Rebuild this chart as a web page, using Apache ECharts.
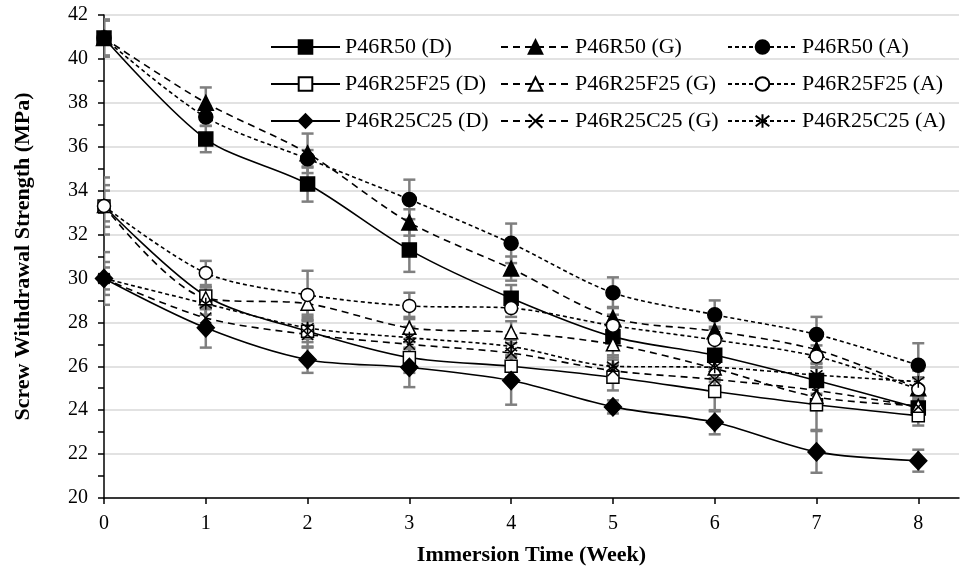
<!DOCTYPE html>
<html><head><meta charset="utf-8">
<script src="https://cdn.jsdelivr.net/npm/echarts@6/dist/echarts.min.js"></script>
<style>html,body{margin:0;padding:0;background:#fff}#c{width:971px;height:577px}</style>
</head><body><div id="c"></div>
<script>
// ---- data ----
const weeks = [0, 1, 2, 3, 4, 5, 6, 7, 8];
const xTickLabels = ['0', '1', '2', '3', '4', '5', '6', '7', '8'];
const yTickLabels = [20, 22, 24, 26, 28, 30, 32, 34, 36, 38, 40, 42];

const names = [
  'P46R50 (D)', 'P46R25F25 (D)', 'P46R25C25 (D)',
  'P46R50 (G)', 'P46R25F25 (G)', 'P46R25C25 (G)',
  'P46R50 (A)', 'P46R25F25 (A)', 'P46R25C25 (A)'
];

const R50_D  = [40.95, 36.35, 34.3, 31.3, 29.1, 27.35, 26.5, 25.35, 24.1];
const F25_D  = [33.3, 29.2, 27.6, 26.4, 26.0, 25.5, 24.85, 24.25, 23.75];
const C25_D  = [30.0, 27.75, 26.3, 25.95, 25.35, 24.15, 23.45, 22.1, 21.7];
const R50_G  = [40.95, 38.0, 35.7, 32.55, 30.45, 28.2, 27.6, 26.75, 25.0];
const F25_G  = [33.3, 29.1, 28.85, 27.75, 27.55, 27.0, 25.9, 24.6, 24.2];
const C25_G  = [30.0, 28.2, 27.45, 27.0, 26.6, 25.8, 25.4, 24.9, 24.15];
const R50_A  = [40.95, 37.35, 35.45, 33.6, 31.6, 29.35, 28.35, 27.45, 26.05];
const F25_A  = [33.3, 30.25, 29.25, 28.75, 28.65, 27.85, 27.2, 26.45, 24.95];
const C25_A  = [30.0, 28.85, 27.75, 27.3, 26.9, 26.0, 25.95, 25.6, 25.3];

// error bar half-widths (+/-)
const R50_D_err = [0.8, 0.6, 0.8, 1.0, 0.6, 0.5, 0.6, 0.6, 0.5];
const F25_D_err = [0.7, 0.4, 0.5, 0.7, 0.5, 0.6, 0.9, 1.15, 0.45];
const C25_D_err = [1.2, 0.9, 0.6, 0.9, 1.1, 0.3, 0.55, 0.95, 0.5];
const R50_G_err = [0.85, 0.7, 0.9, 0.6, 0.55, 0.5, 0.5, 0.6, 0.5];
const F25_G_err = [1.3, 0.5, 0.5, 0.5, 0.5, 0.6, 0.6, 0.6, 0.5];
const C25_G_err = [0.5, 0.5, 0.6, 0.5, 0.6, 0.5, 0.5, 0.5, 0.5];
const R50_A_err = [0.8, 0.4, 0.4, 0.9, 0.9, 0.7, 0.65, 0.8, 1.0];
const F25_A_err = [0.95, 0.55, 1.1, 0.6, 0.4, 0.5, 0.6, 0.5, 0.5];
const C25_A_err = [0.75, 0.5, 0.5, 0.5, 0.5, 0.5, 0.5, 0.5, 0.5];

// ---- styles ----
const FONT = '"Liberation Serif", "Times New Roman", serif';
const X_PATH = 'path://M0,0L10,10M10,0L0,10';
const AST_PATH = 'path://M0,0L10,10M10,0L0,10M5,-1.5L5,11.5';
const DASH_G = [7, 5];
const DASH_A = [4, 3];

const defs = [
  { vals: R50_D, err: R50_D_err, dash: 'solid', symbol: 'rect', size: 14, fill: '#000' },
  { vals: F25_D, err: F25_D_err, dash: 'solid', symbol: 'rect', size: 12, fill: '#fff' },
  { vals: C25_D, err: C25_D_err, dash: 'solid', symbol: 'diamond', size: [17, 18], fill: '#000' },
  { vals: R50_G, err: R50_G_err, dash: DASH_G, symbol: 'triangle', size: 15, fill: '#000' },
  { vals: F25_G, err: F25_G_err, dash: DASH_G, symbol: 'triangle', size: 13, fill: '#fff' },
  { vals: C25_G, err: C25_G_err, dash: DASH_G, symbol: X_PATH, size: 11, fill: '#000' },
  { vals: R50_A, err: R50_A_err, dash: DASH_A, symbol: 'circle', size: 14, fill: '#000' },
  { vals: F25_A, err: F25_A_err, dash: DASH_A, symbol: 'circle', size: 13, fill: '#fff' },
  { vals: C25_A, err: C25_A_err, dash: DASH_A, symbol: AST_PATH, size: 12, fill: '#000' }
];

function renderErr(params, api) {
  const x = api.value(0), lo = api.value(1), hi = api.value(2);
  const a = api.coord([x, lo]), b = api.coord([x, hi]);
  const hw = 6;
  const st = { stroke: '#7f7f7f', lineWidth: 2.5 };
  return {
    type: 'group',
    children: [
      { type: 'line', shape: { x1: a[0], y1: a[1], x2: b[0], y2: b[1] }, style: st },
      { type: 'line', shape: { x1: a[0] - hw, y1: a[1], x2: a[0] + hw, y2: a[1] }, style: st },
      { type: 'line', shape: { x1: b[0] - hw, y1: b[1], x2: b[0] + hw, y2: b[1] }, style: st }
    ]
  };
}

const series = [];
defs.forEach((d, k) => {
  series.push({
    type: 'custom',
    name: names[k] + ' err',
    renderItem: renderErr,
    encode: { x: 0, y: [1, 2] },
    data: weeks.map((w, i) => [w, d.vals[i] - d.err[i], d.vals[i] + d.err[i]]),
    z: 1,
    silent: true,
    clip: true
  });
});
defs.forEach((d, k) => {
  series.push({
    type: 'line',
    name: names[k],
    data: weeks.map((w, i) => [w, d.vals[i]]),
    smooth: 0.3,
    symbol: d.symbol,
    symbolSize: d.size,
    showAllSymbol: true,
    lineStyle: { color: '#000', width: 1.6, type: d.dash },
    itemStyle: { color: d.fill, borderColor: '#000', borderWidth: 1.5 },
    emphasis: { disabled: true },
    z: 3
  });
});

function legendCol(data, left) {
  return {
    data: data,
    orient: 'vertical',
    left: left,
    top: 36,
    padding: 0,
    itemWidth: 69,
    itemHeight: 17,
    itemGap: 15,
    selectedMode: false,
    textStyle: { fontFamily: FONT, fontSize: 22, lineHeight: 22, color: '#000' }
  };
}

const chart = echarts.init(document.getElementById('c'), null, { renderer: 'canvas' });
chart.setOption({
  animation: false,
  backgroundColor: '#fff',
  grid: { left: 104, right: 12, top: 15, bottom: 79, containLabel: false },
  legend: [
    legendCol(names.slice(0, 3), 270),
    legendCol(names.slice(3, 6), 500),
    legendCol(names.slice(6, 9), 727)
  ],
  xAxis: {
    type: 'value',
    min: 0,
    max: 8.4,
    interval: 1,
    name: 'Immersion Time (Week)',
    nameLocation: 'middle',
    nameGap: 46,
    nameTextStyle: { fontFamily: FONT, fontSize: 22, fontWeight: 'bold', color: '#000' },
    axisLine: { lineStyle: { color: '#000', width: 1.5 } },
    axisTick: { show: true, length: 6, lineStyle: { color: '#000', width: 1.5 }, customValues: weeks },
    axisLabel: {
      customValues: weeks,
      margin: 16,
      fontFamily: FONT, fontSize: 20, color: '#000',
      formatter: v => (Number.isInteger(v) ? xTickLabels[v] : '')
    },
    splitLine: { show: false }
  },
  yAxis: {
    type: 'value',
    min: 20,
    max: 42,
    interval: 2,
    name: 'Screw Withdrawal Strength (MPa)',
    nameLocation: 'middle',
    nameRotate: 90,
    nameGap: 70,
    nameTextStyle: { fontFamily: FONT, fontSize: 22, fontWeight: 'bold', color: '#000' },
    axisLine: { show: true, lineStyle: { color: '#000', width: 1.5 } },
    axisTick: { show: true, length: 6, lineStyle: { color: '#000', width: 1.5 } },
    minorTick: { show: true, splitNumber: 2, length: 6, lineStyle: { color: '#000', width: 1.5 } },
    axisLabel: {
      margin: 16,
      fontFamily: FONT, fontSize: 20, color: '#000',
      formatter: v => (yTickLabels.indexOf(v) >= 0 ? String(v) : '')
    },
    splitLine: { show: true, lineStyle: { color: '#d9d9d9', width: 1.5 } }
  },
  series: series
});
</script>
</body></html>
